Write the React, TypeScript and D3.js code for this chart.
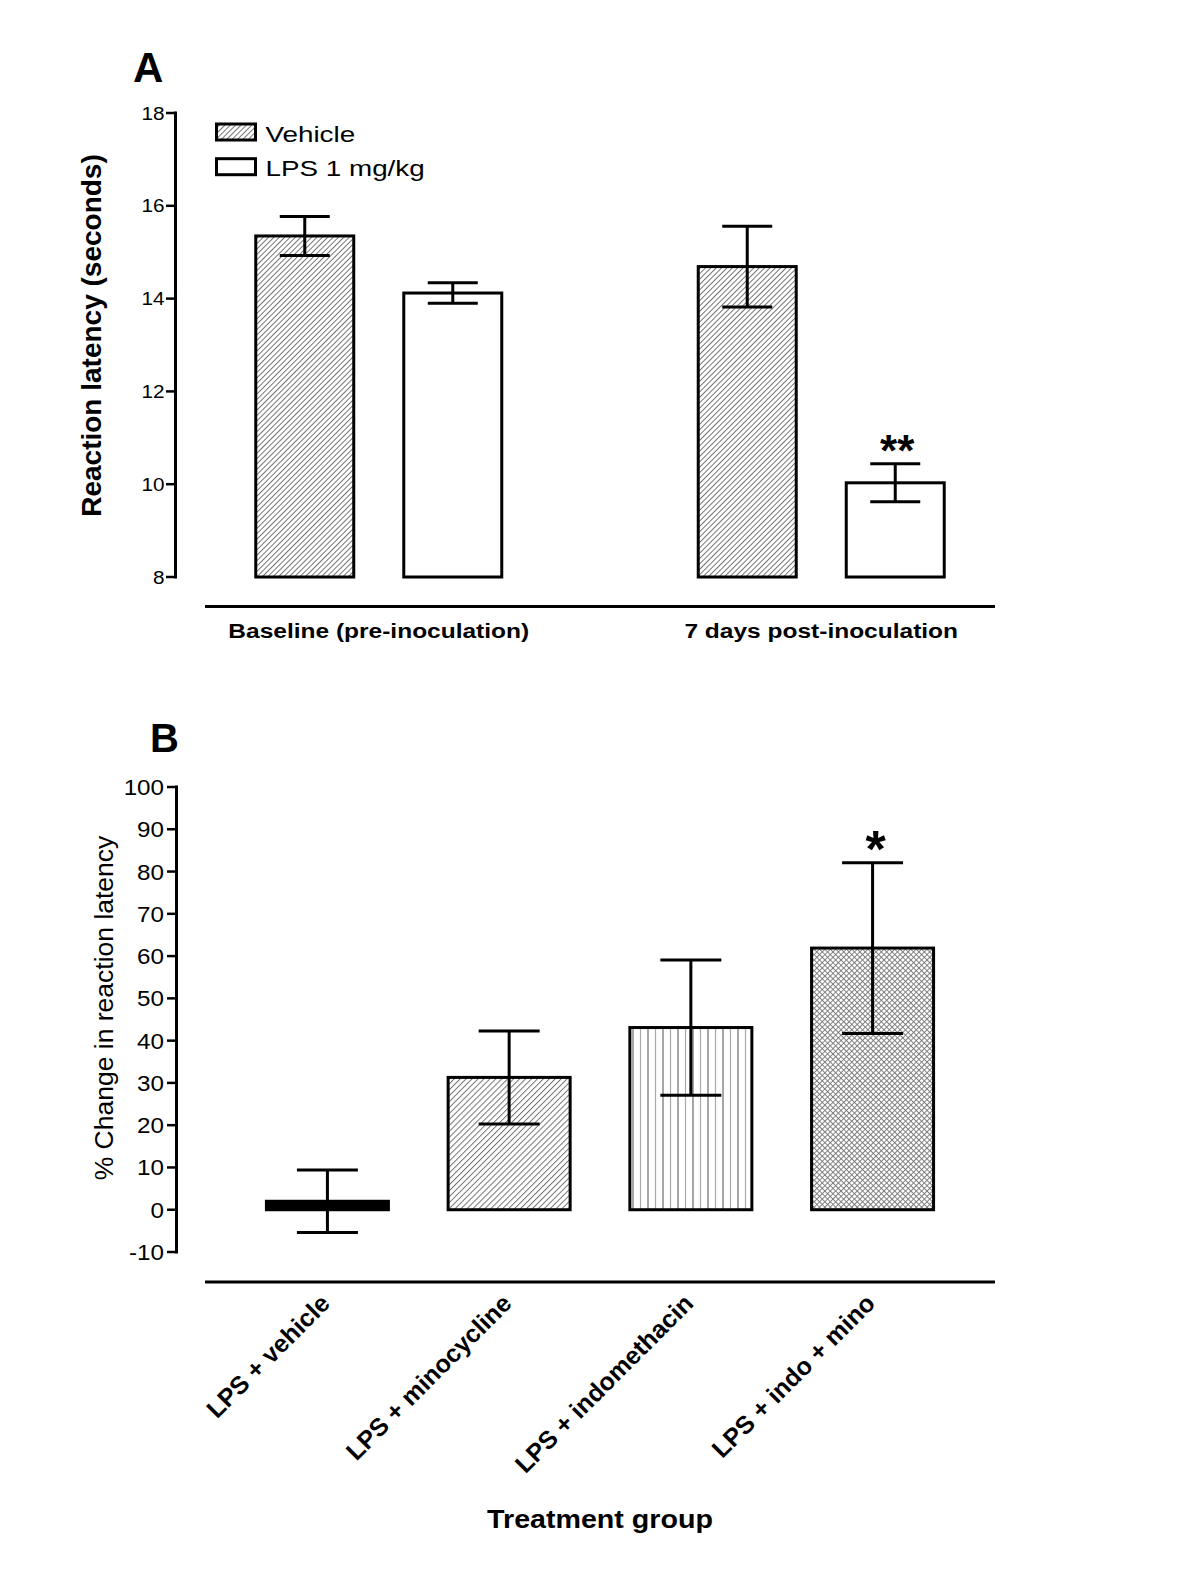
import React from 'react';
import * as d3 from 'd3';

// ---------- Panel A data ----------
const groupsA = ['Baseline (pre-inoculation)', '7 days post-inoculation'];
const seriesA = ['Vehicle', 'LPS 1 mg/kg'];
const vehicleMeans = [15.35, 14.69];
const vehicleSem = [0.42, 0.87];
const lpsMeans = [14.12, 10.03];
const lpsSem = [0.22, 0.41];
const sigA = ['', '**'];
const ticksA = [8, 10, 12, 14, 16, 18];

// ---------- Panel B data ----------
const groupsB = ['LPS + vehicle', 'LPS + minocycline', 'LPS + indomethacin', 'LPS + indo + mino'];
const meansB = [2.0, 31.3, 43.1, 61.9];
const semB = [7.4, 11.0, 16.0, 20.2];
const sigB = ['', '', '', '*'];
const ticksB = [-10, 0, 10, 20, 30, 40, 50, 60, 70, 80, 90, 100];

const FONT = '"Liberation Sans", Arial, Helvetica, sans-serif';

function ErrBar({ x, y1, y2, cap }: { x: number; y1: number; y2: number; cap: number }) {
  return (
    <g stroke="#000" strokeWidth={3} fill="none">
      <line x1={x} x2={x} y1={y1} y2={y2} />
      <line x1={x - cap / 2} x2={x + cap / 2} y1={y1} y2={y1} />
      <line x1={x - cap / 2} x2={x + cap / 2} y1={y2} y2={y2} />
    </g>
  );
}

export default function App() {
  // Panel A scales
  const yA = d3.scaleLinear().domain([8, 18]).range([577, 113]);
  const xA = d3.scalePoint<string>().domain(groupsA).range([205, 995]).padding(0.3927);
  const subA = d3.scaleBand<string>().domain(seriesA).range([-123, 123]).paddingInner(0.338);
  const bwA = subA.bandwidth();

  // Panel B scales
  const yB = d3.scaleLinear().domain([-10, 100]).range([1252, 787]);
  const xB = d3.scaleBand<string>().domain(groupsB).range([205, 995]).paddingInner(0.3286).paddingOuter(0.338);
  const bwB = xB.bandwidth();

  const fillsA = ['url(#hatchA)', '#fff'];
  const fillsB = ['#000', 'url(#hatchB)', 'url(#vertB)', 'url(#crossB)'];

  return (
    <svg
      width={1200}
      height={1578}
      style={{ position: 'absolute', left: 0, top: 0, display: 'block', background: '#fff' }}
      fontFamily={FONT}
    >
      <defs>
        <pattern id="hatchA" patternUnits="userSpaceOnUse" width={3.8} height={3.8} patternTransform="rotate(45)">
          <rect width={3.8} height={3.8} fill="#fff" />
          <line x1={0.5} y1={0} x2={0.5} y2={3.8} stroke="#666" strokeWidth={0.9} />
        </pattern>
        <pattern id="hatchB" patternUnits="userSpaceOnUse" width={4.2} height={4.2} patternTransform="rotate(45)">
          <rect width={4.2} height={4.2} fill="#fff" />
          <line x1={0.5} y1={0} x2={0.5} y2={4.2} stroke="#666" strokeWidth={0.9} />
        </pattern>
        <pattern id="vertB" patternUnits="userSpaceOnUse" width={15} height={10}>
          <rect width={15} height={10} fill="#fff" />
          <line x1={3} y1={0} x2={3} y2={10} stroke="#777" strokeWidth={1.3} />
          <line x1={10.5} y1={0} x2={10.5} y2={10} stroke="#aaa" strokeWidth={1.2} />
        </pattern>
        <pattern id="crossB" patternUnits="userSpaceOnUse" width={3.8} height={3.8} patternTransform="rotate(45)">
          <rect width={3.8} height={3.8} fill="#fff" />
          <line x1={0.5} y1={0} x2={0.5} y2={3.8} stroke="#777" strokeWidth={0.9} />
          <line x1={0} y1={0.5} x2={3.8} y2={0.5} stroke="#777" strokeWidth={0.9} />
        </pattern>
      </defs>

      {/* ================= Panel A ================= */}
      <text x={133} y={82} fontSize={42} fontWeight="bold">A</text>

      {/* y axis */}
      <line x1={175.5} x2={175.5} y1={yA(18) - 1.5} y2={yA(8) + 1.5} stroke="#000" strokeWidth={3} />
      {ticksA.map((t) => (
        <g key={'ta' + t}>
          <line x1={166} x2={175.5} y1={yA(t)} y2={yA(t)} stroke="#000" strokeWidth={2.5} />
          <text
            transform={`translate(164.5,${yA(t) + 6.5}) scale(1.12,1)`}
            textAnchor="end"
            fontSize={18.5}
          >
            {t}
          </text>
        </g>
      ))}
      <text
        transform={`translate(101,335.5) rotate(-90)`}
        textAnchor="middle"
        fontSize={28}
        fontWeight="bold"
      >
        Reaction latency (seconds)
      </text>

      {/* legend */}
      <rect x={216.5} y={124} width={39} height={16} fill="url(#hatchA)" stroke="#000" strokeWidth={3} />
      <text transform="translate(265.5,141.7) scale(1.22,1)" fontSize={22.8}>{seriesA[0]}</text>
      <rect x={216.5} y={158.7} width={39} height={16} fill="#fff" stroke="#000" strokeWidth={3} />
      <text transform="translate(265.5,176) scale(1.22,1)" fontSize={22.8}>{seriesA[1]}</text>

      {/* bars */}
      {groupsA.map((g, i) => {
        const cx = xA(g) as number;
        const vals = [vehicleMeans[i], lpsMeans[i]];
        const sems = [vehicleSem[i], lpsSem[i]];
        return (
          <g key={'ga' + g}>
            {seriesA.map((s, j) => {
              const x0 = cx + (subA(s) as number);
              const bc = x0 + bwA / 2;
              return (
                <g key={s}>
                  <rect
                    x={x0}
                    y={yA(vals[j])}
                    width={bwA}
                    height={yA(8) - yA(vals[j])}
                    fill={fillsA[j]}
                    stroke="#000"
                    strokeWidth={3}
                  />
                  <ErrBar x={bc} y1={yA(vals[j] + sems[j])} y2={yA(vals[j] - sems[j])} cap={50} />
                  {j === 1 && sigA[i] ? (
                    <text x={bc + 2} y={yA(vals[j] + sems[j]) + 2} textAnchor="middle" fontSize={44} fontWeight="bold">
                      {sigA[i]}
                    </text>
                  ) : null}
                </g>
              );
            })}
            <text
              transform={`translate(${cx},638) scale(1.167,1)`}
              textAnchor="middle"
              fontSize={21}
              fontWeight="bold"
            >
              {g}
            </text>
          </g>
        );
      })}
      <line x1={205} x2={995} y1={606.5} y2={606.5} stroke="#000" strokeWidth={3} />

      {/* ================= Panel B ================= */}
      <text x={150} y={752} fontSize={40} fontWeight="bold">B</text>

      <line x1={176.5} x2={176.5} y1={yB(100) - 1.5} y2={yB(-10) + 1.5} stroke="#000" strokeWidth={3} />
      {ticksB.map((t) => (
        <g key={'tb' + t}>
          <line x1={167} x2={176.5} y1={yB(t)} y2={yB(t)} stroke="#000" strokeWidth={2.5} />
          <text
            transform={`translate(164,${yB(t) + 8}) scale(1.1,1)`}
            textAnchor="end"
            fontSize={22}
          >
            {t}
          </text>
        </g>
      ))}
      <text
        transform={`translate(113,1008) rotate(-90)`}
        textAnchor="middle"
        fontSize={26.5}
      >
        % Change in reaction latency
      </text>

      {groupsB.map((g, i) => {
        const x0 = xB(g) as number;
        const cx = x0 + bwB / 2;
        const v = meansB[i];
        return (
          <g key={'gb' + g}>
            <rect
              x={x0}
              y={yB(Math.max(0, v))}
              width={bwB}
              height={Math.abs(yB(0) - yB(v))}
              fill={fillsB[i]}
              stroke="#000"
              strokeWidth={3}
            />
            <ErrBar x={cx} y1={yB(v + semB[i])} y2={yB(v - semB[i])} cap={61} />
            {sigB[i] ? (
              <text x={cx + 3} y={yB(v + semB[i]) + 4} textAnchor="middle" fontSize={52} fontWeight="bold">
                {sigB[i]}
              </text>
            ) : null}
            <text
              transform={`translate(${cx + 4},1305) rotate(-45)`}
              textAnchor="end"
              fontSize={25}
              fontWeight="bold"
            >
              {g}
            </text>
          </g>
        );
      })}
      <line x1={205} x2={995} y1={1282} y2={1282} stroke="#000" strokeWidth={3} />

      <text
        transform="translate(600,1528) scale(1.08,1)"
        textAnchor="middle"
        fontSize={26.5}
        fontWeight="bold"
      >
        Treatment group
      </text>
    </svg>
  );
}
